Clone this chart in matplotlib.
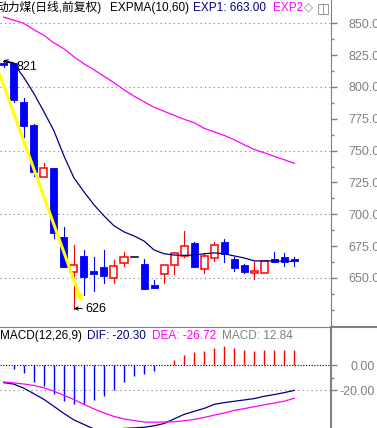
import matplotlib
matplotlib.use('Agg')
import matplotlib.pyplot as plt
from matplotlib.patches import Rectangle
from matplotlib.lines import Line2D
import numpy as np

plt.rcParams['font.family'] = ['Liberation Sans', 'Noto Sans CJK SC', 'DejaVu Sans']

# daily candles, oldest first
opens = [818.5, 818.5, 788.5, 770.5, 729.5, 736, 682.5, 654.5, 667.5, 655.5,
         658.5, 650, 662, 666.5, 661, 644.5, 653, 660, 667.5, 677.5,
         657, 665.5, 678.5, 665, 660, 654, 654, 665, 666.5, 665]
highs = [821, 818.5, 791.5, 771, 740.5, 736, 690, 676, 672, 666.5,
         672, 664, 670.5, 666.5, 665, 648.5, 660, 670.5, 687, 678.5,
         670, 678.5, 680.5, 666.5, 661, 662.5, 663.5, 670.5, 670, 666.5]
lows = [816, 788.5, 761, 730, 729.5, 681.5, 658.5, 626, 636.5, 640,
        646, 646, 659.5, 666.5, 641, 642, 646, 653, 666.5, 658.5,
        654, 663.5, 662.5, 655.5, 654, 649, 654, 662.5, 659.5, 659.5]
closes = [817.5, 790, 769, 733, 736.5, 685.5, 658.5, 660, 651, 653,
          651.5, 659.5, 666.5, 666.5, 641.5, 642, 660, 669.5, 675, 658.5,
          667.5, 676, 669, 658, 654.5, 655.5, 663.5, 662.5, 662.5, 663]

exp1 = [820, 818.5, 807.5, 795, 780.7, 765.7, 746, 728.7, 717.7, 707.5,
        698.8, 691, 686.2, 683, 679, 672, 669, 668, 667.7, 668,
        669, 669.7, 669, 667.3, 665.7, 663.4, 663.4, 663.4, 663.2, 663]
exp2 = [854.8, 852.4, 850, 845, 840.6, 834.7, 830, 823.7, 818.2, 813.5,
        808.4, 803.3, 797.8, 792.7, 788.4, 784, 780.9, 777.7, 774.6, 771.9,
        767.5, 764.8, 761.9, 758.5, 754.6, 750.9, 748.3, 745.5, 742.8, 740]

dif = [-14, -15.2, -18.5, -23, -27.6, -33.3, -39.1, -44.4, -48.1, -51.8,
       -52.6, -52.4, -51.3, -50.9, -50.4, -49.2, -47.3, -43.6, -39.9, -37.4,
       -35, -31.7, -30.3, -29.2, -28.1, -27, -25.1, -23.7, -22.1, -20.3]
dea = [-13.4, -14.2, -15.1, -16.3, -18.2, -21, -24.3, -27.8, -31.7, -35.4,
       -38.7, -41.6, -43.6, -44.9, -46.1, -46.3, -46.1, -45.9, -45.1, -44,
       -42.4, -40.5, -38.7, -36.6, -35.2, -33.6, -32.1, -30.6, -29.1, -26.72]
macd = [0, -3.2, -6.5, -13.4, -16.7, -22.9, -29, -31.3, -31.3, -28.4,
        -24.8, -20.2, -13.4, -8.5, -6.6, -4.3, 0, 4.3, 8.6, 10.6,
        12, 14.6, 15.5, 14.6, 12.8, 12, 12.8, 12.8, 12.8, 12.84]

# hand drawn trend line
trend_x = [-0.4, 7.8]
trend_y = [810, 631]

price_ticks = [650, 675, 700, 725, 750, 775, 800, 825, 850]
price_grid = [650, 700, 750, 800, 850]

BLUE = '#0000ff'
RED = '#ff0000'
NAVY = '#000080'
MAG = '#ff00ff'
GREY = '#808080'

W, H = 377, 428
fig = plt.figure(figsize=(W / 100, H / 100), dpi=100)
fig.patch.set_facecolor('white')

axr = 330.5 / W
sep = (H - 327) / H          # panel separator, figure fraction
ax = fig.add_axes([0, sep, axr, (327 - 15) / H])
ax2 = fig.add_axes([0, 0, axr, sep])

xs = np.arange(len(opens))
for a in (ax, ax2):
    a.set_xlim(-0.37, 32.6)
    for s in a.spines.values():
        s.set_visible(False)
    a.set_xticks([])
    a.yaxis.tick_right()

ax.set_ylim(611.5, 856.5)
ax2.set_ylim(-51.0, 31.4)

# candles
bw = 0.7
for i in xs:
    o, h, l, c = opens[i], highs[i], lows[i], closes[i]
    if c > o:
        ax.plot([i, i], [c, h], color=RED, lw=0.8, zorder=2)
        ax.plot([i, i], [l, o], color=RED, lw=0.8, zorder=2)
        ax.add_patch(Rectangle((i - bw / 2, o), bw, c - o, facecolor='white',
                               edgecolor=RED, lw=1.1, zorder=3))
    elif c < o:
        ax.plot([i, i], [l, h], color=BLUE, lw=0.8, zorder=2)
        ax.add_patch(Rectangle((i - bw / 2, c), bw, o - c, facecolor=BLUE,
                               edgecolor=BLUE, lw=0.6, zorder=3))
    else:
        ax.plot([i - bw / 2, i + bw / 2], [c, c], color='black', lw=1.1, zorder=3)
        ax.plot([i, i], [l, h], color='black', lw=0.8, zorder=2)

ax.plot(xs, exp1, color=NAVY, lw=0.9, zorder=4)
ax.plot(xs, exp2, color=MAG, lw=0.9, zorder=4)

ax.annotate('', xy=(trend_x[1], trend_y[1]), xytext=(trend_x[0], trend_y[0]),
            arrowprops=dict(arrowstyle='->', color='#ffff00', lw=2.2,
                            mutation_scale=8, shrinkA=0, shrinkB=0), zorder=5)

# high / low markers
imax = int(np.argmax(highs))
imin = int(np.argmin(lows))
ax.annotate(f'{highs[imax]:.0f}', xy=(imax, highs[imax]), xytext=(imax + 1.3, highs[imax] - 5),
            fontsize=9, va='center', ha='left',
            arrowprops=dict(arrowstyle='->', color='black', lw=0.7, shrinkA=0, shrinkB=0,
                            mutation_scale=6), zorder=6)
ax.annotate(f'{lows[imin]:.0f}', xy=(imin, lows[imin]), xytext=(imin + 1.1, lows[imin]),
            fontsize=9, va='center', ha='left',
            arrowprops=dict(arrowstyle='->', color='black', lw=0.7, shrinkA=0, shrinkB=0,
                            mutation_scale=6), zorder=6)

for g in price_grid:
    ax.axhline(g, color=GREY, lw=0.8, ls=(0, (1, 3)), zorder=1)

ax.set_yticks(price_ticks)
ax.set_yticklabels([f'{t:.2f}' for t in price_ticks])
ax.set_yticks(np.arange(612.5, 856, 12.5), minor=True)
ax.tick_params(axis='y', which='major', length=4, width=1, color=GREY,
               labelcolor=GREY, labelsize=9, pad=9)
ax.tick_params(axis='y', which='minor', length=2, width=1, color=GREY)

# MACD panel
bar_col = [RED if m > 0 else BLUE for m in macd]
ax2.vlines(xs, 0, macd, colors=bar_col, lw=1.0, zorder=2)
ax2.plot(xs, dif, color=NAVY, lw=0.9, zorder=3)
ax2.plot(xs, dea, color=MAG, lw=0.9, zorder=3)
ax2.axhline(0, color='black', lw=0.8, ls=(0, (1, 1.5)), zorder=1)
ax2.axhline(-20, color=GREY, lw=0.8, ls=(0, (1, 3)), zorder=1)
ax2.set_yticks([0, -20])
ax2.set_yticklabels(['0.00', '-20.00'])
ax2.set_yticks([-10], minor=True)
ax2.tick_params(axis='y', which='major', length=4, width=1, color=GREY,
                labelcolor=GREY, labelsize=9, pad=28)
ax2.tick_params(axis='y', which='minor', length=2, width=1, color=GREY)
for lab in ax2.get_yticklabels():
    lab.set_horizontalalignment('right')

# frame lines
fig.add_artist(Line2D([axr, axr], [sep, 1], color=GREY, lw=0.8))
fig.add_artist(Line2D([axr, axr], [0, sep], color=GREY, lw=1.5))
fig.add_artist(Line2D([0, axr], [sep, sep], color=GREY, lw=0.8))
fig.add_artist(Line2D([axr, 1], [sep, sep], color=GREY, lw=1.5))

# headers
fs = 8.5
ty = 1 - 8 / H
fig.text(-4 / W, ty, '动力煤(日线,前复权)', fontsize=fs, va='center', color='black')
fig.text(110 / W, ty, 'EXPMA(10,60)', fontsize=fs, va='center', color='black')
fig.text(193 / W, ty, f'EXP1: {exp1[-1]:.2f}', fontsize=fs, va='center', color=NAVY)
fig.text(273 / W, ty, 'EXP2', fontsize=fs, va='center', color=MAG)
fig.text(304 / W, ty, '◇', fontsize=fs, va='center', color=GREY, family='DejaVu Sans')
fig.text(317 / W, ty, '◫', fontsize=10, va='center', color=GREY, family='DejaVu Sans')

my = 1 - 336 / H
fig.text(0, my, 'MACD(12,26,9)', fontsize=fs, va='center', color='black')
fig.text(87 / W, my, f'DIF: {dif[-1]:.2f}', fontsize=fs, va='center', color=NAVY)
fig.text(152 / W, my, f'DEA: {dea[-1]:.2f}', fontsize=fs, va='center', color=MAG)
fig.text(222 / W, my, f'MACD: {macd[-1]:.2f}', fontsize=fs, va='center', color=GREY)

fig.savefig('out.png', dpi=100)
